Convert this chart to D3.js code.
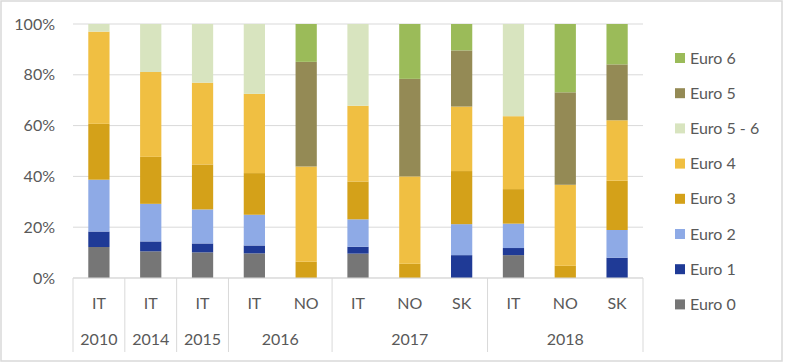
<!DOCTYPE html>
<html>
<head>
<meta charset="utf-8">
<script src="https://cdn.jsdelivr.net/npm/d3@7"></script>
<style>
  html, body { margin: 0; padding: 0; background: #fff; }
  svg text { font-family: Lato, "Open Sans", sans-serif; fill: #595959; }
</style>
</head>
<body>
<div id="chart"></div>
<script>
// Bars, left to right
const countries = ["IT", "IT", "IT", "IT", "NO", "IT", "NO", "SK", "IT", "NO", "SK"];
const years = ["2010", "2014", "2015", "2016", "2016", "2017", "2017", "2017", "2018", "2018", "2018"];

// Share of each emission class per bar (%)
const euro0 = [12.2, 10.5, 10.1, 9.7, 0, 9.6, 0, 0, 9.0, 0, 0];
const euro1 = [6.1, 3.9, 3.5, 3.1, 0, 2.7, 0, 9.0, 2.8, 0, 8.0];
const euro2 = [20.4, 14.8, 13.4, 12.1, 0, 10.8, 0, 12.2, 9.6, 0, 10.9];
const euro3 = [22.0, 18.5, 17.7, 16.4, 6.4, 14.9, 5.6, 20.9, 13.6, 4.8, 19.4];
const euro4 = [36.3, 33.4, 32.2, 31.2, 37.5, 29.8, 34.4, 25.4, 28.7, 31.9, 23.8];
const euro56 = [3.0, 18.9, 23.1, 27.5, 0, 32.2, 0, 0, 36.3, 0, 0];
const euro5 = [0, 0, 0, 0, 41.2, 0, 38.4, 22.1, 0, 36.4, 22.0];
const euro6 = [0, 0, 0, 0, 14.9, 0, 21.6, 10.4, 0, 26.9, 15.9];

// Stack order bottom -> top
const seriesNames = ["Euro 0", "Euro 1", "Euro 2", "Euro 3", "Euro 4", "Euro 5 - 6", "Euro 5", "Euro 6"];
const seriesValues = [euro0, euro1, euro2, euro3, euro4, euro56, euro5, euro6];
const yTicks = [0, 20, 40, 60, 80, 100];

const COLORS = {
  "Euro 0": "#767676",
  "Euro 1": "#1f3a96",
  "Euro 2": "#8eaae6",
  "Euro 3": "#d4a119",
  "Euro 4": "#f0bf42",
  "Euro 5 - 6": "#d8e4bf",
  "Euro 5": "#948a55",
  "Euro 6": "#9bbb59",
  grid: "#d9d9d9",
  border: "#d9d9d9",
};

const WIDTH = 785;
const HEIGHT = 363;
const PLOT = { left: 73, right: 643, top: 24, bottom: 278 };

const svg = d3.select("#chart")
  .append("svg")
  .attr("width", WIDTH)
  .attr("height", HEIGHT);

// Chart frame
svg.append("rect")
  .attr("x", 1).attr("y", 1)
  .attr("width", 781).attr("height", 360)
  .attr("fill", "#fff")
  .attr("stroke", COLORS.border)
  .attr("stroke-width", 1.5);

const rows = countries.map((c, i) => {
  const row = { idx: i, country: c, year: years[i] };
  seriesNames.forEach((name, s) => { row[name] = seriesValues[s][i]; });
  return row;
});

const x = d3.scaleBand()
  .domain(rows.map((d) => d.idx))
  .range([PLOT.left, PLOT.right])
  .paddingInner(0.59)
  .paddingOuter(0.295);

const y = d3.scaleLinear()
  .domain([0, 100])
  .range([PLOT.bottom, PLOT.top]);

// Gridlines
svg.append("g")
  .selectAll("line")
  .data(yTicks)
  .join("line")
  .attr("x1", PLOT.left).attr("x2", PLOT.right)
  .attr("y1", (d) => y(d)).attr("y2", (d) => y(d))
  .attr("stroke", COLORS.grid)
  .attr("stroke-width", 1);

// Y tick labels
svg.append("g")
  .selectAll("text")
  .data(yTicks)
  .join("text")
  .attr("x", 55)
  .attr("y", (d) => y(d))
  .attr("dy", "0.35em")
  .attr("text-anchor", "end")
  .style("font-size", "16px")
  .text((d) => d + "%");

// Stacked bars
const stacked = d3.stack().keys(seriesNames)(rows);

svg.append("g")
  .selectAll("g")
  .data(stacked)
  .join("g")
  .attr("fill", (d) => COLORS[d.key])
  .selectAll("rect")
  .data((d) => d)
  .join("rect")
  .attr("x", (d) => x(d.data.idx))
  .attr("y", (d) => y(d[1]))
  .attr("width", x.bandwidth())
  .attr("height", (d) => Math.max(0, y(d[0]) - y(d[1])));

// Category axis: country row + year row
const axisBottom = 352;
svg.append("line")
  .attr("x1", PLOT.left).attr("x2", PLOT.right)
  .attr("y1", PLOT.bottom).attr("y2", PLOT.bottom)
  .attr("stroke", COLORS.grid);

svg.append("g")
  .selectAll("text")
  .data(rows)
  .join("text")
  .attr("x", (d) => x(d.idx) + x.bandwidth() / 2)
  .attr("y", 303)
  .attr("dy", "0.35em")
  .attr("text-anchor", "middle")
  .style("font-size", "16px")
  .text((d) => d.country);

// Group consecutive bars of the same year
const yearGroups = [];
rows.forEach((d) => {
  const last = yearGroups[yearGroups.length - 1];
  if (last && last.year === d.year) last.end = d.idx;
  else yearGroups.push({ year: d.year, start: d.idx, end: d.idx });
});

const step = x.step();
const groupEdge = (i) => PLOT.left + i * step;

const bounds = [0].concat(yearGroups.map((g) => g.end + 1));
svg.append("g")
  .selectAll("line")
  .data(bounds)
  .join("line")
  .attr("x1", (d) => groupEdge(d)).attr("x2", (d) => groupEdge(d))
  .attr("y1", PLOT.bottom).attr("y2", axisBottom)
  .attr("stroke", COLORS.grid);

svg.append("g")
  .selectAll("text")
  .data(yearGroups)
  .join("text")
  .attr("x", (d) => (groupEdge(d.start) + groupEdge(d.end + 1)) / 2)
  .attr("y", 339)
  .attr("dy", "0.35em")
  .attr("text-anchor", "middle")
  .style("font-size", "16px")
  .text((d) => d.year);

// Legend (top item = last stacked series)
const legendItems = seriesNames.slice().reverse();
const legend = svg.append("g").attr("transform", "translate(675, 58)");
const items = legend.selectAll("g")
  .data(legendItems)
  .join("g")
  .attr("transform", (d, i) => `translate(0, ${i * 35.2})`);

items.append("rect")
  .attr("x", 0).attr("y", -5)
  .attr("width", 10).attr("height", 10)
  .attr("fill", (d) => COLORS[d]);

items.append("text")
  .attr("x", 15)
  .attr("y", 0)
  .attr("dy", "0.35em")
  .style("font-size", "16px")
  .text((d) => d);
</script>
</body>
</html>
